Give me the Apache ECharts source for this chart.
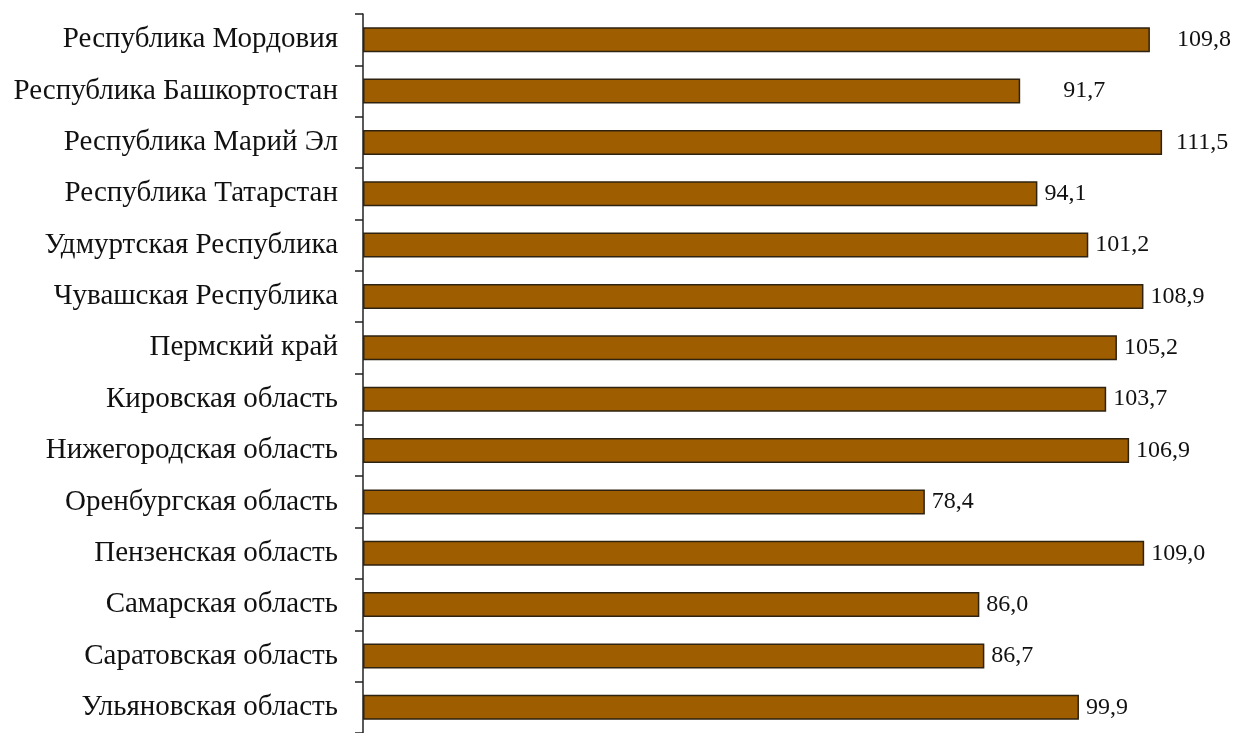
<!DOCTYPE html>
<html><head><meta charset="utf-8">
<script src="https://cdn.jsdelivr.net/npm/echarts@6/dist/echarts.min.js"></script>
<style>html,body{margin:0;padding:0;background:#fff}#c{width:1234px;height:733px}</style>
</head><body><div id="c"></div>
<script>
const categories = ["Республика Мордовия","Республика Башкортостан","Республика Марий Эл","Республика Татарстан","Удмуртская Республика","Чувашская Республика","Пермский край","Кировская область","Нижегородская область","Оренбургская область","Пензенская область","Самарская область","Саратовская область","Ульяновская область"];
const values = [109.8,91.7,111.5,94.1,101.2,108.9,105.2,103.7,106.9,78.4,109.0,86.0,86.7,99.9];
// label distances (style only)
const labelDist = {0:27, 1:43, 2:14};
const chart = echarts.init(document.getElementById('c'));
const font = '"Liberation Serif","Times New Roman",serif';
chart.setOption({
  animation:false,
  grid:{left:363,right:11,top:14,bottom:-9,containLabel:false},
  xAxis:{type:'value',min:0,max:120,show:false},
  yAxis:{type:'category',data:categories,inverse:true,
    axisLine:{lineStyle:{color:'#222',width:1.5}},
    axisTick:{show:true,length:8,lineStyle:{color:'#222',width:1.5}},
    axisLabel:{fontFamily:font,fontSize:29,color:'#111',margin:25}},
  series:[{type:'bar',barWidth:25,
    data:values.map((v,i)=>({value:v,label:{distance:labelDist[i]!==undefined?labelDist[i]:7}})),
    itemStyle:{color:'#9E5E00',borderColor:'#2e2210',borderWidth:1.5},
    label:{show:true,position:'right',fontFamily:font,fontSize:24,color:'#111',
      formatter:p=>p.value.toFixed(1).replace('.',',')}}]
});
</script></body></html>
